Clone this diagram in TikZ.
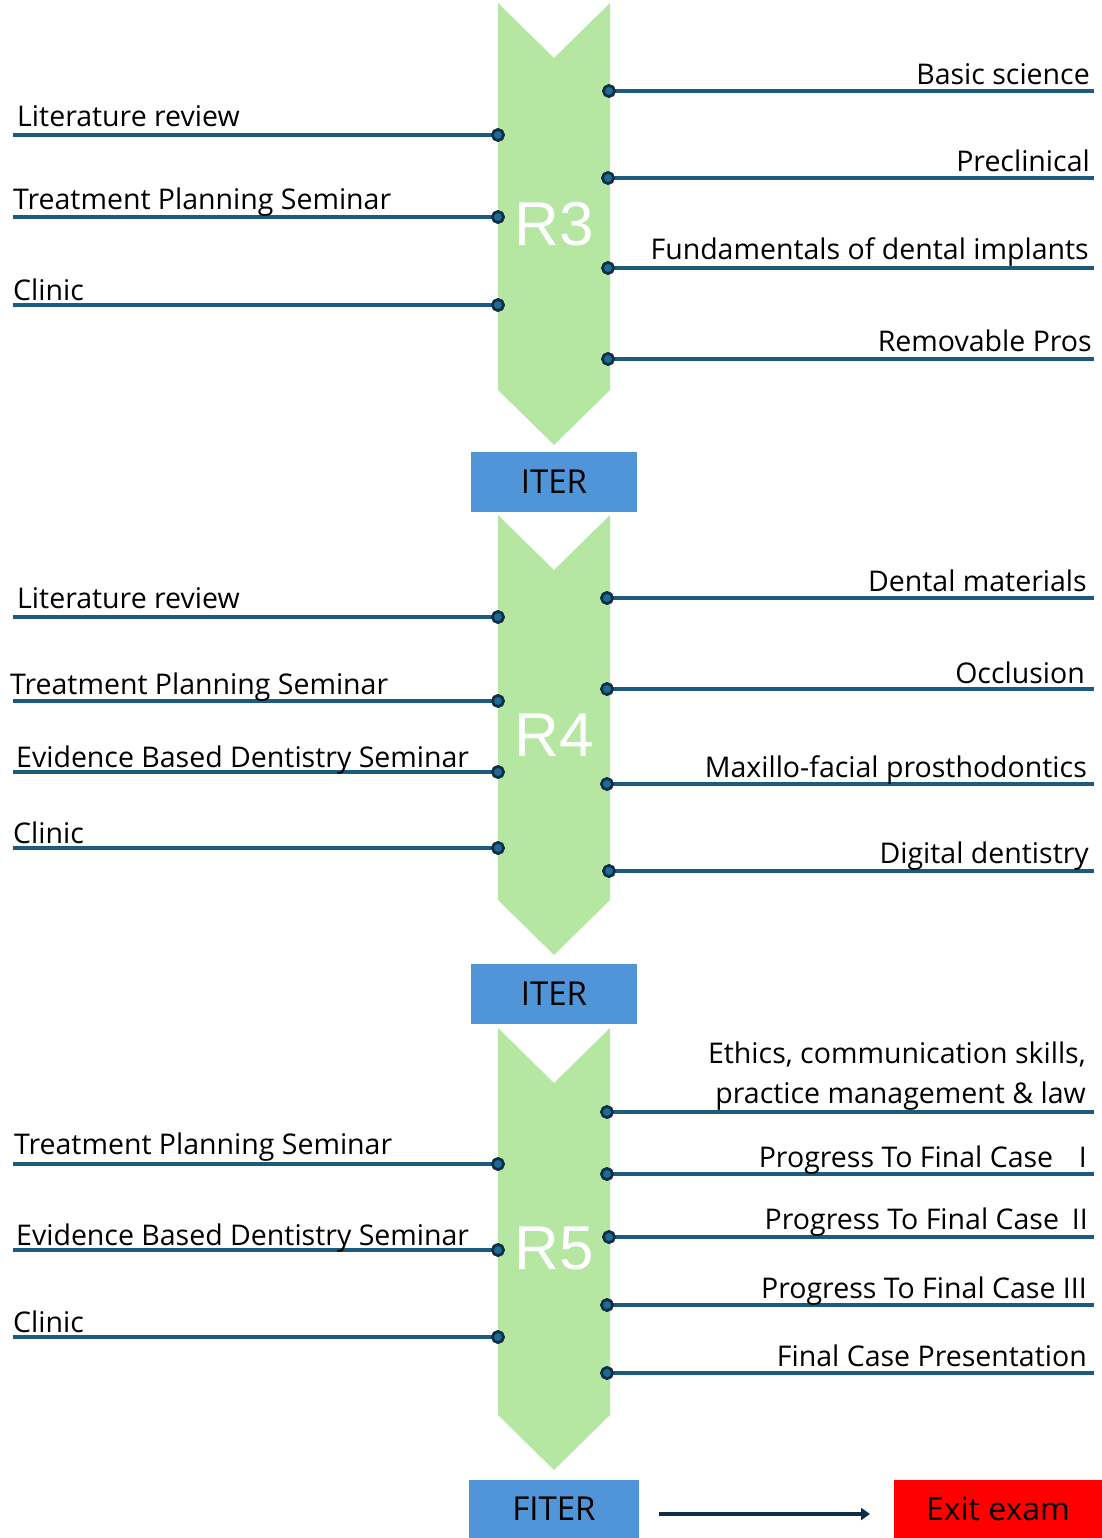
\documentclass[tikz,border=0pt]{standalone}
\usepackage{fontspec}
\setmainfont{Open Sans}
\newfontfamily\rfont{Liberation Sans}
\usetikzlibrary{arrows.meta}
\definecolor{chev}{HTML}{B5E6A2}
\definecolor{linec}{HTML}{1D5A80}
\definecolor{dotc}{HTML}{0E2F45}
\definecolor{dotf}{HTML}{1F6B96}
\definecolor{boxc}{HTML}{4F95D8}
\definecolor{exitc}{HTML}{FF0000}
\tikzset{
  chevron/.style={fill=chev,draw=none},
  conn/.style={draw=linec,line width=3.2pt},
  dotn/.style={circle,draw=dotc,fill=dotf,line width=2.6pt,minimum size=11pt,inner sep=0pt},
  lab/.style={font=\fontsize{28.5}{32}\selectfont,inner sep=0pt},
  ltxt/.style={lab,anchor=base west},
  rtxt/.style={lab,anchor=base east},
  rlab/.style={font=\rfont\fontsize{62}{62}\selectfont,text=white,inner sep=0pt},
  iterbox/.style={fill=boxc,minimum width=166pt,minimum height=60pt,inner sep=0pt,font=\fontsize{33}{35}\selectfont},
}
\begin{document}
\begin{tikzpicture}[x=1pt,y=-1pt]
\useasboundingbox (0,0) rectangle (1102,1538);
% chevrons
\fill[chevron] (498,3) -- (554,58) -- (610,3) -- (610,390) -- (554,445) -- (498,390) -- cycle;
\fill[chevron] (498,515) -- (554,570) -- (610,515) -- (610,900) -- (554,955) -- (498,900) -- cycle;
\fill[chevron] (498,1028) -- (554,1083) -- (610,1028) -- (610,1415) -- (554,1470) -- (498,1415) -- cycle;
\node[rlab] (r3) at (554,224) {R3};
\node[rlab] (r4) at (554,735) {R4};
\node[rlab] (r5) at (554,1248) {R5};
% boxes
\node[iterbox] (iter1) at (554,482) {ITER};
\node[iterbox] (iter2) at (554,994) {ITER};
\node[iterbox,minimum width=170pt,minimum height=58pt] (fiter) at (554,1509) {FITER};
\node[fill=exitc,minimum width=208pt,minimum height=58pt,inner sep=0pt,font=\fontsize{32}{34}\selectfont] (exit) at (998,1509) {Exit exam};
\draw[draw=dotc,line width=4.5pt,-{Triangle[length=9pt,width=12pt]}] (fiter.east)++(20,5) coordinate (a0) -- (870,1514) coordinate (a1);
% ---------- R3 left
\node[dotn] (l1) at (498,135) {}; \coordinate (l1e) at (13,135);
\node[dotn] (l2) at (498,217) {}; \coordinate (l2e) at (13,217);
\node[dotn] (l3) at (498,305) {}; \coordinate (l3e) at (13,305);
% R3 right
\node[dotn] (r31) at (609,91) {}; \coordinate (r31e) at (1094,91);
\node[dotn] (r32) at (608,178) {}; \coordinate (r32e) at (1094,178);
\node[dotn] (r33) at (608,268) {}; \coordinate (r33e) at (1094,268);
\node[dotn] (r34) at (608,359) {}; \coordinate (r34e) at (1094,359);
% ---------- R4 left
\node[dotn] (l4) at (498,617) {}; \coordinate (l4e) at (13,617);
\node[dotn] (l5) at (498,701) {}; \coordinate (l5e) at (13,701);
\node[dotn] (l6) at (498,772) {}; \coordinate (l6e) at (13,772);
\node[dotn] (l7) at (498,848) {}; \coordinate (l7e) at (13,848);
% R4 right
\node[dotn] (r41) at (607,598) {}; \coordinate (r41e) at (1094,598);
\node[dotn] (r42) at (607,689) {}; \coordinate (r42e) at (1094,689);
\node[dotn] (r43) at (607,784) {}; \coordinate (r43e) at (1094,784);
\node[dotn] (r44) at (609,871) {}; \coordinate (r44e) at (1094,871);
% ---------- R5 left
\node[dotn] (l8) at (498,1164) {}; \coordinate (l8e) at (13,1164);
\node[dotn] (l9) at (498,1250) {}; \coordinate (l9e) at (13,1250);
\node[dotn] (l10) at (498,1337) {}; \coordinate (l10e) at (13,1337);
% R5 right
\node[dotn] (r51) at (607,1112) {}; \coordinate (r51e) at (1094,1112);
\node[dotn] (r52) at (607,1174) {}; \coordinate (r52e) at (1094,1174);
\node[dotn] (r53) at (609,1237) {}; \coordinate (r53e) at (1094,1237);
\node[dotn] (r54) at (607,1305) {}; \coordinate (r54e) at (1094,1305);
\node[dotn] (r55) at (607,1373) {}; \coordinate (r55e) at (1094,1373);
% connectors
\foreach \n in {l1,l2,l3,l4,l5,l6,l7,l8,l9,l10,r31,r32,r33,r34,r41,r42,r43,r44,r51,r52,r53,r54,r55}
  \draw[conn] (\n.center) -- (\n e);
% redraw dots on top
\foreach \n/\x/\y in {l1/498/135,l2/498/217,l3/498/305,l4/498/617,l5/498/701,l6/498/772,l7/498/848,l8/498/1164,l9/498/1250,l10/498/1337,r31/609/91,r32/608/178,r33/608/268,r34/608/359,r41/607/598,r42/607/689,r43/607/784,r44/609/871,r51/607/1112,r52/607/1174,r53/609/1237,r54/607/1305,r55/607/1373}
  \node[dotn] (d\n) at (\x,\y) {};
% labels left
\node[ltxt] (t1) at (17,127) {Literature review};
\node[ltxt] (t2) at (13,210) {Treatment Planning Seminar};
\node[ltxt] (t3) at (13,300) {Clinic};
\node[ltxt] (t4) at (17,608) {Literature review};
\node[ltxt] (t5) at (10,694) {Treatment Planning Seminar};
\node[ltxt] (t6) at (16,767) {Evidence Based Dentistry Seminar};
\node[ltxt] (t7) at (13,843) {Clinic};
\node[ltxt] (t8) at (14,1154) {Treatment Planning Seminar};
\node[ltxt] (t9) at (16,1245) {Evidence Based Dentistry Seminar};
\node[ltxt] (t10) at (13,1332) {Clinic};
% labels right
\node[rtxt] (u1) at (1090,85) {Basic science};
\node[rtxt] (u2) at (1090,172) {Preclinical};
\node[rtxt] (u3) at (1089,259) {Fundamentals of dental implants};
\node[rtxt] (u4) at (1092,351) {Removable Pros};
\node[rtxt] (u5) at (1087,591) {Dental materials};
\node[rtxt] (u6) at (1085,683) {Occlusion};
\node[rtxt] (u7) at (1087,777) {Maxillo-facial prosthodontics};
\node[rtxt] (u8) at (1089,863) {Digital dentistry};
\node[rtxt] (u9a) at (1086,1063) {Ethics, communication skills,};
\node[rtxt] (u9b) at (1086,1103) {practice management \& law};
\node[rtxt] (u10) at (1087,1167) {Progress To Final Case\hspace{0.9em}I};
\node[rtxt] (u11) at (1088,1229) {Progress To Final Case\hspace{0.45em}II};
\node[rtxt] (u12) at (1087,1298) {Progress To Final Case III};
\node[rtxt] (u13) at (1087,1366) {Final Case Presentation};
\end{tikzpicture}
\end{document}
